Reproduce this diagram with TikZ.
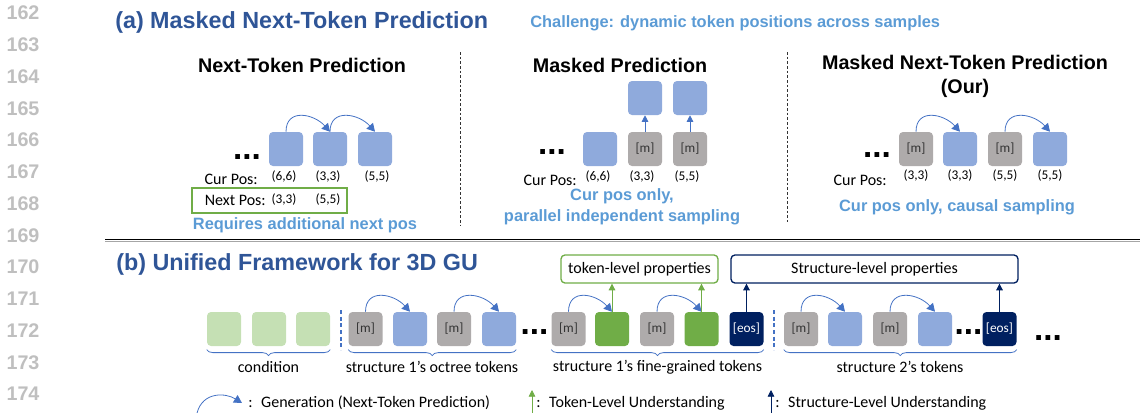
\documentclass[tikz,border=0pt]{standalone}
\usepackage{fontspec}
\setmainfont{Carlito}
\newfontfamily\headfont{Liberation Sans}
\usetikzlibrary{positioning,arrows.meta,decorations.pathreplacing}

\definecolor{titlecol}{RGB}{47,85,151}
\definecolor{notecol} {RGB}{91,155,213}
\definecolor{tokcol}  {RGB}{143,170,220}
\definecolor{maskcol} {RGB}{174,171,171}
\definecolor{finecol} {RGB}{112,173,71}
\definecolor{condcol} {RGB}{197,224,180}
\definecolor{eoscol}  {RGB}{0,32,96}
\definecolor{arccol}  {RGB}{68,114,196}
\definecolor{lnumcol} {RGB}{191,191,191}

\begin{document}
\begin{tikzpicture}[
  x=0.75pt,y=-0.75pt,
  lnum/.style={font=\headfont\bfseries\fontsize{14.8}{16}\selectfont,
               text=lnumcol,inner sep=0pt},
  ptitle/.style={font=\headfont\bfseries\fontsize{17.5}{20}\selectfont,
                 text=titlecol,anchor=west,inner sep=0pt},
  sub/.style={font=\headfont\bfseries\fontsize{14.8}{17.5}\selectfont,
              align=center,inner sep=0pt},
  note/.style={font=\headfont\bfseries\fontsize{12.3}{15.5}\selectfont,
               text=notecol,align=center,inner sep=0pt},
  ellip/.style={font=\headfont\bfseries\fontsize{25}{25}\selectfont,inner sep=0pt},
  lbl/.style={font=\fontsize{12}{14}\selectfont,inner sep=0pt},
  val/.style={font=\fontsize{10}{12}\selectfont,inner sep=0pt},
  tok/.style={rectangle,rounded corners=3pt,minimum size=25.5pt,
              inner sep=0pt,fill=tokcol},
  mtok/.style={tok,fill=maskcol,font=\fontsize{10}{12}\selectfont,text=black!80},
  ftok/.style={tok,fill=finecol},
  ctok/.style={tok,fill=condcol},
  etok/.style={tok,fill=eoscol,font=\fontsize{10}{12}\selectfont,text=white},
  pbox/.style={rectangle,rounded corners=3pt,line width=1pt,fill=white,
               minimum height=21pt,font=\fontsize{12}{14}\selectfont},
  gen/.style={-{Triangle[length=6pt,width=6.5pt]},draw=arccol,line width=0.6pt},
  up/.style={-{Triangle[length=5pt,width=5pt]},line width=0.6pt},
  brc/.style={decorate,decoration={brace,mirror,amplitude=4.5pt},
              draw=arccol,line width=0.6pt},
  vsep/.style={dash pattern=on 2pt off 1.5pt,line width=0.6pt,black!80},
  cutline/.style={dash pattern=on 3pt off 2pt,line width=0.8pt,arccol}
]
\useasboundingbox (0,0) rectangle (1140,412);

% line numbers down the margin
\node[lnum] (l162) at (23,13) {162};
\node[lnum] (l163) at (23,44.75) {163};
\node[lnum] (l164) at (23,76.5) {164};
\node[lnum] (l165) at (23,108.25) {165};
\node[lnum] (l166) at (23,140) {166};
\node[lnum] (l167) at (23,171.75) {167};
\node[lnum] (l168) at (23,203.5) {168};
\node[lnum] (l169) at (23,235.25) {169};
\node[lnum] (l170) at (23,267) {170};
\node[lnum] (l171) at (23,298.75) {171};
\node[lnum] (l172) at (23,330.5) {172};
\node[lnum] (l173) at (23,362.25) {173};
\node[lnum] (l174) at (23,394) {174};

% (a) three decoding schemes
\node[ptitle] (ta) at (115,22) {(a) Masked Next-Token Prediction};
\node[note,anchor=west] (chal) at (530,23)
  {Challenge: dynamic token positions across samples};
\node[sub] (s1) at (302,65) {Next-Token Prediction};
\node[sub] (s2) at (620,65) {Masked Prediction};
\node[sub] (s3) at (965,76.5) {Masked Next-Token Prediction\\(Our)};
\draw[vsep] (460,52) -- (460,225);
\draw[vsep] (787,52) -- (787,222);

% next-token prediction
\node[ellip] (d1) at (247,157) {...};
\node[tok] (n1) at (286,149) {};
\node[tok] (n2) at (330,149) {};
\node[tok] (n3) at (375,149) {};
\draw[gen] (n1.north) .. controls +(0,-24) and +(-16,-18) .. (n2.north);
\draw[gen] (n2.north) .. controls +(0,-24) and +(-16,-18) .. (n3.north);
\node[lbl,anchor=east] (cp1) at (258,179) {Cur Pos:};
\node[val] (p11) at (284,177) {(6,6)};
\node[val] (p12) at (328,177) {(3,3)};
\node[val] (p13) at (377,177) {(5,5)};
\node[draw=finecol,line width=1pt,minimum width=116.25pt,
      minimum height=18.75pt,inner sep=0pt] (npbox) at (269.5,200.5) {};
\node[lbl,anchor=east] (np1) at (266,200) {Next Pos:};
\node[val] (q11) at (284,200) {(3,3)};
\node[val] (q12) at (328,200) {(5,5)};
\node[note] (r1) at (305,225) {Requires additional next pos};

% masked prediction
\node[ellip] (d2) at (552,152) {...};
\node[tok] (m1) at (600,149) {};
\node[mtok] (m2) at (645,149) {[m]};
\node[mtok] (m3) at (690,149) {[m]};
\node[tok] (m4) at (645,98) {};
\node[tok] (m5) at (690,98) {};
\draw[up,arccol] (m2) -- (m4);
\draw[up,arccol] (m3) -- (m5);
\node[lbl,anchor=east] (cp2) at (577,180) {Cur Pos:};
\node[val] (p21) at (598,177) {(6,6)};
\node[val] (p22) at (642,177) {(3,3)};
\node[val] (p23) at (687,177) {(5,5)};
\node[note] (r2) at (622,206.5) {Cur pos only,\\parallel independent sampling};

% masked next-token prediction
\node[ellip] (d3) at (877,155) {...};
\node[mtok] (k1) at (916,149) {[m]};
\node[tok] (k2) at (960,149) {};
\node[mtok] (k3) at (1005,149) {[m]};
\node[tok] (k4) at (1050,149) {};
\draw[gen] (k1.north) .. controls +(0,-24) and +(-16,-18) .. (k2.north);
\draw[gen] (k3.north) .. controls +(0,-24) and +(-16,-18) .. (k4.north);
\node[lbl,anchor=east] (cp3) at (887,180) {Cur Pos:};
\node[val] (p31) at (916,176) {(3,3)};
\node[val] (p32) at (960,176) {(3,3)};
\node[val] (p33) at (1005,176) {(5,5)};
\node[val] (p34) at (1050,176) {(5,5)};
\node[note] (r3) at (957,207) {Cur pos only, causal sampling};

% rule between the two parts
\coordinate (ruleL) at (105,239.5);
\coordinate (ruleR) at (1140,239.5);
\draw[line width=1.1pt] (ruleL) -- (ruleR);
\draw[black!35,line width=1.1pt] ([yshift=-1.5pt]ruleL) -- ([yshift=-1.5pt]ruleR);

% (b) unified token sequence
\node[ptitle] (tb) at (116,264) {(b) Unified Framework for 3D GU};
\node[ctok] (c1) at (224,329) {};
\node[ctok] (c2) at (269,329) {};
\node[ctok] (c3) at (313,329) {};
\draw[cutline] (341,310) -- (341,350);
\node[mtok] (o1) at (365.5,329) {[m]};
\node[tok] (o2) at (410,329) {};
\node[mtok] (o3) at (454,329) {[m]};
\node[tok] (o4) at (499,329) {};
\node[ellip] (d4) at (534.5,332) {...};
\node[mtok] (f1) at (568.5,329) {[m]};
\node[ftok] (f2) at (612,329) {};
\node[mtok] (f3) at (657,329) {[m]};
\node[ftok] (f4) at (701.5,329) {};
\node[etok] (e1) at (746.5,329) {[eos]};
\draw[cutline] (774,310) -- (774,350);
\node[mtok] (u1) at (801,329) {[m]};
\node[tok] (u2) at (845,329) {};
\node[mtok] (u3) at (890,329) {[m]};
\node[tok] (u4) at (935,329) {};
\node[ellip] (d5) at (968.5,332) {...};
\node[etok] (e2) at (999.5,329) {[eos]};
\node[ellip] (d6) at (1048,338) {...};

\draw[gen] (o1.north) .. controls +(0,-24) and +(-16,-18) .. (o2.north);
\draw[gen] (o3.north) .. controls +(0,-24) and +(-16,-18) .. (o4.north);
\draw[gen] (f1.north) .. controls +(0,-24) and +(-16,-18) .. (f2.north);
\draw[gen] (f3.north) .. controls +(0,-24) and +(-16,-18) .. (f4.north);
\draw[gen] (u1.north) .. controls +(0,-24) and +(-16,-18) .. (u2.north);
\draw[gen] (u3.north) .. controls +(0,-24) and +(-16,-18) .. (u4.north);

% property heads
\node[pbox,draw=finecol,minimum width=117.75pt] (tprop) at (639.5,269)
  {token-level properties};
\node[pbox,draw=eoscol,minimum width=215.25pt] (sprop) at (874.5,269)
  {Structure-level properties};
\draw[up,finecol] (f2.north) -- (f2.north |- tprop.south);
\draw[up,finecol] (f4.north) -- (f4.north |- tprop.south);
\draw[up,eoscol] (e1.north) -- (e1.north |- sprop.south);
\draw[up,eoscol] (e2.north) -- (e2.north |- sprop.south);

% groups under the sequence
\draw[brc] ([yshift=-2.5pt]c1.south west) -- ([yshift=-2.5pt]c3.south east);
\draw[brc] ([yshift=-2.5pt]o1.south west) -- ([yshift=-2.5pt]o4.south east);
\draw[brc] ([yshift=-2.5pt]f1.south west) -- ([yshift=-2.5pt]e1.south east);
\draw[brc] ([yshift=-2.5pt]u1.south west) -- ([yshift=-2.5pt]e2.south east);
\node[lbl] (gc) at (268.5,367) {condition};
\node[lbl] (go) at (432,367) {structure 1’s octree tokens};
\node[lbl] (gf) at (657.5,367) {structure 1’s fine-grained tokens};
\node[lbl] (gs) at (900,367) {structure 2’s tokens};

% legend
\coordinate (gA0) at (197,413);
\coordinate (gA1) at (242,403);
\draw[gen] (gA0) .. controls +(6,-22) and +(-16,-10) .. (gA1);
\node[lbl,anchor=west] (lgA) at (248,403)
  {:\hspace{6.5pt}Generation (Next-Token Prediction)};
\coordinate (gB0) at (532,413);
\coordinate (gB1) at (532,390);
\draw[up,finecol] (gB0) -- (gB1);
\node[lbl,anchor=west] (lgB) at (536,403) {:\hspace{6.5pt}Token-Level Understanding};
\coordinate (gC0) at (771,413);
\coordinate (gC1) at (771,390);
\draw[up,eoscol] (gC0) -- (gC1);
\node[lbl,anchor=west] (lgC) at (775,403) {:\hspace{6.5pt}Structure-Level Understanding};
\end{tikzpicture}
\end{document}
